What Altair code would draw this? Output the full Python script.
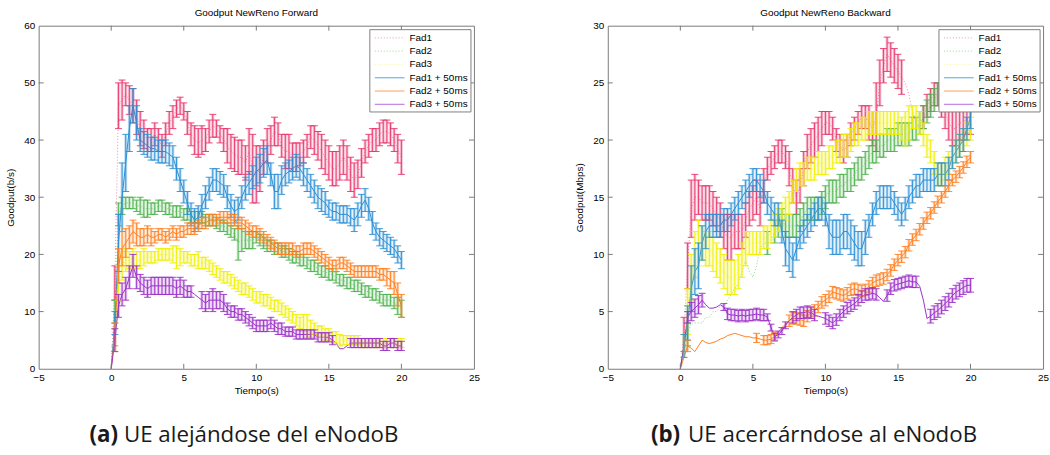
import altair as alt
import pandas as pd

# ---- series definitions -------------------------------------------------
SERIES = ["Fad1", "Fad2", "Fad3", "Fad1 + 50ms", "Fad2 + 50ms", "Fad3 + 50ms"]
BAR_COLORS = ["#e8336b", "#4db24d", "#f0f000", "#2b8fd4", "#ff8020", "#9b30c8"]
LINE_COLORS = ["#f08cb0", "#8fd08f", "#f5f550", "#2b8fd4", "#ff8020", "#9b30c8"]
KEY_COLORS = ["#f4a6c4", "#a8e0a8", "#f8f8a0", "#70b4e4", "#ffb070", "#c080e0"]
DOTTED = [True, True, True, False, False, False]

# sample instants (s), one every 0.25 s
TIME = [round(0.25 * k, 2) for k in range(81)]
XTICKS = [-5, 0, 5, 10, 15, 20, 25]
FWD_YTICKS = [0, 10, 20, 30, 40, 50, 60]
BWD_YTICKS = [0, 5, 10, 15, 20, 25, 30]

# ---- Forward: mean goodput and error half-width -------------------------
FWD_FAD1 = [
    0, 15, 46, 47, 48, 47, 46, 44, 42, 41, 40, 40, 41, 40, 39, 41,
    43, 44, 45.5, 46, 45, 43, 41, 40, 39.5, 40, 40, 41.5, 42.5, 42, 41, 40,
    39, 38, 37.5, 37, 37, 36, 38, 35, 34, 35, 37, 39, 40, 41.5, 41, 39,
    38, 38, 37, 37, 37.5, 38, 39, 40.5, 40, 39, 38, 37, 36, 35, 35, 36,
    37, 36, 34, 33, 34, 36, 38, 39, 40, 40, 41, 41.5, 41.5, 41, 40, 38.5,
    37]
FWD_FAD1_ERR = [
    0, 3, 4, 3.5, 2, 2.5, 3, 3, 3, 2.5, 2, 2, 2, 2, 2, 2,
    2, 2, 1.5, 1.5, 1.5, 2, 2, 2.5, 2.5, 2.5, 2, 2, 2, 1.5, 1.5, 2,
    3, 3, 3, 3, 3, 3, 4, 6, 5, 4, 3, 3, 2.5, 2.5, 2, 2,
    3, 3, 2.5, 2.5, 2, 2, 2, 2, 2.5, 2.5, 3, 3, 3, 3, 3, 3,
    3, 3, 3, 3, 2.5, 2.5, 2, 2, 2, 2, 2, 2, 2, 2, 2, 2.5,
    3]
FWD_FAD2 = [
    0, 10, 27, 28.5, 29, 29, 29, 28.5, 28.5, 28, 28, 28, 28, 28.5, 28.5, 28,
    28, 27.5, 27.5, 27.5, 27, 27, 26.5, 26.5, 26.5, 26.5, 26, 26, 26, 25.5, 25, 25,
    24.5, 24, 23.5, 22, 22.5, 22.5, 22.5, 22.5, 23, 22.5, 22, 21.5, 21.5, 21, 21, 20.5,
    20.5, 20, 19.5, 19.5, 19, 19, 18.5, 18, 18, 17.5, 17, 17, 16.5, 16.5, 16, 15.5,
    15.5, 15, 15, 14.5, 14.5, 14, 13.5, 13.5, 13, 13, 12.5, 12, 12, 12, 11.5, 11,
    10.5]
FWD_FAD2_ERR = [
    0, 2, 2, 1.5, 1, 1, 1, 1, 1.5, 1.5, 1.5, 1, 1, 1, 1, 1,
    1, 1, 1, 1, 1, 1, 1, 1, 1, 1, 1, 1, 1, 1, 1, 1,
    1, 1, 1, 3, 2, 1.5, 1.5, 1.5, 1, 1, 1, 1, 1, 1, 1, 1,
    1, 1, 1, 1, 1, 1, 1, 1, 1, 1, 1, 1, 1, 1, 1, 1,
    1, 1, 1, 1, 1, 1, 1, 1, 1, 1, 1, 1, 1, 1, 1, 1.5,
    1.5]
FWD_FAD3 = [
    0, 5, 15, 18, 19, 19, 19.5, 19, 19, 19.5, 19.5, 19.5, 19.5, 20, 20, 20,
    20, 20, 19.5, 19.5, 19.5, 19.5, 19, 19, 19, 18.5, 18.5, 18, 17.5, 17, 16.5, 16,
    16, 15.5, 15, 14.5, 14, 14, 13.5, 13, 12.5, 12.5, 12, 12, 11.5, 11, 11, 10.5,
    10, 9.5, 9, 8.5, 8, 8, 7.5, 7, 7, 6.5, 6.5, 6, 6, 5.5, 5.5, 5,
    5, 5, 5, 5, 5, 4.5, 4.5, 4.5, 4.5, 4.5, 4.5, 4.5, 4.5, 4.5, 4.5, 4.5,
    4.5]
FWD_FAD3_ERR = [
    0, 2, 3, 2.5, 2, 1.5, 1.5, 1.5, 1.5, 1.5, 1, 1, 1, 1, 1, 1,
    1, 1.5, 2, 1.5, 1, 1, 1, 1, 1.5, 1, 1, 1, 1, 1, 1, 1,
    1, 1, 1, 1, 1, 1, 1, 1, 1, 1, 1, 1, 1, 1, 1, 1,
    1, 1, 1, 1, 1, 1.5, 2, 1.5, 1, 1, 1, 1, 1, 1, 1, 1,
    0.8, 0.8, 0.8, 0.8, 0.8, 0.8, 0.8, 0.8, 0.8, 0.8, 0.8, 0.8, 0.8, 0.8, 0.8, 0.8,
    0.8]
FWD_FAD1_50 = [
    0, 8, 22, 30, 36, 42, 46, 43, 40, 39.5, 39, 38.5, 38.5, 38, 38, 38,
    37.5, 37, 35, 33, 31, 29, 27, 26, 26.5, 28.5, 30, 31.5, 33, 33, 32.5, 32,
    30, 28.5, 27.5, 28, 30, 31.5, 32.5, 33.5, 34.5, 35, 36, 36.5, 34, 31, 31, 33,
    34, 34.5, 35, 35.5, 35, 34, 33, 32, 31, 30, 29.5, 29, 28, 27.5, 27.5, 27,
    27, 27, 26.5, 26, 27, 28.5, 29.5, 28, 25.5, 24, 23, 22.5, 22, 21.5, 21, 20,
    19]
FWD_FAD1_50_ERR = [
    0, 2, 5, 6, 5, 4, 3, 3, 2, 2, 2, 2, 2, 2, 2, 2,
    2, 2, 2, 2, 2, 2, 2, 2, 2, 2, 2, 2, 2, 2, 2, 2,
    2, 2, 2, 2, 2, 2, 2, 2, 2.5, 2.5, 2.5, 2.5, 2, 3, 3, 2.5,
    2, 2, 2, 2, 2, 2, 2, 2, 2, 2, 2, 2, 1.5, 1.5, 1.5, 1.5,
    1.5, 1.5, 1.5, 2, 2, 2, 2, 2, 2, 1.5, 1.5, 1.5, 1.5, 1.5, 1.5, 1.5,
    1.5]
FWD_FAD2_50 = [
    0, 6, 18, 21, 22, 23, 24, 23.5, 23, 23, 23.5, 23, 23, 23.5, 23.5, 23,
    23.5, 24, 23.5, 24, 24, 24.5, 24.5, 24.5, 25, 25.5, 25.5, 26, 26, 26, 26.5, 26.5,
    26.5, 26, 26, 25.5, 25.5, 25, 24.5, 24, 24, 23.5, 23, 22.5, 22, 21.5, 21, 21,
    21, 21, 21, 20.5, 20.5, 21, 21, 21, 20.5, 20, 19.5, 19, 18.5, 18, 18, 18.5,
    18.5, 18, 17.5, 17, 17, 17, 17, 17, 17, 17, 16.5, 16.5, 16, 15.5, 15, 13,
    11]
FWD_FAD2_50_ERR = [
    0, 2, 3, 3, 2.5, 2, 2, 2, 1.5, 1.5, 1.5, 1.5, 1, 1, 1, 1,
    1, 1, 1, 1, 1, 1, 1, 1, 1, 1, 1, 1, 1, 1, 1, 1,
    1, 1, 1, 1, 1, 1, 1, 1, 1, 1, 1, 1, 1, 1, 1, 1,
    1, 1, 1, 1, 1, 1, 1, 1, 1, 1, 1, 1, 1, 1, 1, 1,
    1, 1, 1, 1, 1, 1, 1, 1, 1, 1, 1, 1, 1.5, 1.5, 2, 2,
    2]
FWD_FAD3_50 = [
    0, 5, 11, 13, 14, 16, 18, 16, 15, 14.5, 14, 14.5, 14.5, 14.5, 14.5, 14.5,
    14.5, 14.5, 14, 14.5, 14, 13.5, 13.5, 13, 12.5, 12, 11.5, 12, 12, 12, 12, 11.5,
    10.5, 10, 10, 9.5, 9.5, 9, 8.5, 8, 7.5, 7.5, 7.5, 7.5, 8, 7.5, 7, 7,
    6.5, 6.5, 6.5, 6, 6, 6, 6, 6, 6, 5.5, 5.5, 5.5, 5.5, 5, 4.5, 3.5,
    3.5, 4, 4.5, 4.5, 4.5, 4.5, 4.5, 4.5, 4.5, 4.5, 4.5, 4, 4, 4.5, 4.5, 4,
    4]
FWD_FAD3_50_ERR = [
    0, 2, 2, 2, 2, 2, 2, 2, 1.5, 1.5, 1.5, 1.5, 1.5, 1.5, 1.5, 1.5,
    1.5, 1.5, 1.5, 1.5, 1.5, 1, 1, 0, 0, 1.5, 1.5, 1.5, 2, 1.5, 1.5, 1.5,
    1, 1, 1, 1, 1, 1, 1, 1, 1, 1, 1, 1, 1, 1, 1, 1,
    0.8, 0.8, 0.8, 0.8, 0.8, 0.8, 0.8, 0.8, 0.8, 0.8, 0.8, 0.8, 0.8, 0.8, 0, 0,
    0, 0, 0.8, 0.8, 0.8, 0.8, 0.8, 0.8, 0.8, 0.8, 0.8, 0.8, 0.8, 0.8, 0.8, 0.8,
    0.8]

# ---- Backward: mean goodput and error half-width ------------------------
BWD_FAD1 = [
    0, 3, 9, 14, 15, 15, 14.5, 14.5, 14.5, 14, 13.5, 13, 12, 11.5, 11.5, 12,
    12, 12, 13, 14, 14.5, 15, 14, 16, 17.5, 18, 18.5, 19, 19, 18.5, 17.5, 16,
    15, 16, 17.5, 19, 19.5, 20, 20.5, 21, 21.5, 21.5, 21, 20, 19.5, 19, 19.5, 20.5,
    21, 21.5, 22, 22, 21.5, 21, 22, 25, 26.5, 27.5, 27, 26.5, 26, 25.5, 25, 24,
    22.5, 21.5, 21, 22, 23, 23.5, 24, 24, 23.5, 22.5, 21.5, 21, 21, 21.5, 21.5, 22,
    22]
BWD_FAD1_ERR = [
    0, 1.5, 2, 2.5, 2, 1.5, 1.5, 1.5, 1.5, 1.5, 1.5, 1.5, 1.5, 2, 2, 1.5,
    1.5, 1.5, 1.5, 1.5, 1.5, 1.5, 1.5, 1.5, 1, 1, 1, 1, 1, 1, 1.5, 1.5,
    1.5, 1.5, 1.5, 1.5, 1.5, 1.5, 1.5, 1.5, 1, 1, 1, 1, 1, 1, 1, 1,
    1, 1, 1, 1, 1.5, 1.5, 3, 2, 1.5, 1.5, 1.5, 1.5, 1.5, 1.5, 0, 0,
    0, 0, 0, 1, 1, 1, 1, 1, 1.5, 1.5, 1.5, 1.5, 1.5, 1.5, 1.5, 1.5,
    1.5]
BWD_FAD2 = [
    0, 1.5, 3, 4, 4, 4, 4, 4.5, 4.5, 5, 5, 5.5, 5.5, 6, 6.5, 7,
    7.5, 8.5, 9.5, 8.5, 8, 9, 10.5, 11, 11, 11, 12, 12.5, 13, 12.5, 12.5, 12.5,
    12.5, 13, 13.5, 14, 14, 14, 14, 14.5, 15, 15.5, 15.5, 15.5, 16, 16, 16.5, 16.5,
    17, 17.5, 17.5, 18, 18.5, 19, 19, 19.5, 19.5, 20, 20, 20, 20.5, 20.5, 20.5, 20.5,
    21, 21, 21.5, 22, 22.5, 23, 23.5, 24, 24, 24, 24, 24, 24, 24, 24, 24,
    24]
BWD_FAD2_ERR = [
    0, 0, 1, 0, 0, 0, 0, 0, 0, 0, 0, 0, 0, 0, 0, 0,
    0, 0, 0, 0, 0, 0, 0, 0, 1, 0, 1, 1, 1, 1, 1, 1,
    1, 1, 1, 1, 1, 1, 1, 1, 1, 1, 1, 1, 1, 1, 1, 1,
    1, 1, 1, 1, 1, 1, 1, 1, 1, 1, 1, 1, 1, 1, 1, 1,
    1, 1, 1, 1, 1, 1, 1, 1, 1, 1, 1, 1, 1, 1, 1, 1,
    1]
BWD_FAD3 = [
    0, 2, 5, 8, 10, 11, 11, 10.5, 10.5, 10, 9.5, 9, 8.5, 8, 8, 8,
    8.5, 9.5, 10.5, 11, 11, 11, 11, 11.5, 11.5, 12, 12.5, 13, 13.5, 14, 14.5, 15.5,
    16.5, 17, 17, 17.5, 17.5, 17.5, 18, 18, 18, 18.5, 18.5, 19, 19, 19.5, 19.5, 20,
    20.5, 20.5, 21, 21, 21.5, 21.5, 21.5, 21.5, 21.5, 21.5, 21.5, 21.5, 21.5, 21, 21, 21.5,
    22, 22, 21.5, 20.5, 19.5, 19, 18, 17, 17, 17.5, 18, 18.5, 19, 19.5, 20, 20.5,
    21]
BWD_FAD3_ERR = [
    0, 1, 2, 2, 2, 2, 1.5, 1.5, 1.5, 1.5, 1.5, 1.5, 1.5, 1.5, 1.5, 1.5,
    1.5, 1.5, 1.5, 1, 1, 1, 1, 1, 1, 1, 1, 1, 1, 1, 1, 1,
    1, 1, 1, 1, 1, 1, 1, 1, 1, 1, 1, 1, 1, 1, 1, 1,
    1, 1, 1, 1, 1, 1, 1, 1, 1, 1, 1, 1, 1, 1, 1.5, 1.5,
    1, 1, 1, 1, 1, 1, 1, 1, 1, 1, 1, 1, 1, 1, 1, 1,
    1]
BWD_FAD1_50 = [
    0, 2, 4, 7, 8.5, 9, 11, 12, 12.5, 12.5, 12.5, 12.5, 13, 13, 13.5, 14,
    14.5, 15, 15.5, 16, 16.5, 16.5, 16, 15.5, 14.5, 14, 13.5, 13.5, 12, 10.5, 10, 9.5,
    10.5, 11.5, 12, 12.5, 13, 13.5, 14, 14, 13.5, 12, 11.5, 11.5, 11.5, 12, 12, 11.5,
    11, 10.5, 10.5, 11.5, 12.5, 13.5, 14.5, 15, 15, 15, 15, 14.5, 14, 13.5, 14, 15,
    15.5, 16, 16, 16.5, 16.5, 16.5, 16.5, 17, 17, 17, 17.5, 18.5, 19, 19.5, 20, 21,
    22]
BWD_FAD1_50_ERR = [
    0, 1, 1.5, 2, 2, 2, 1.5, 1.5, 1, 1, 1, 1, 1, 1, 1, 1,
    1, 1, 1, 1, 1, 1, 1, 1, 1, 1, 1, 1, 1, 1.5, 1.5, 1.5,
    1, 1, 1, 1, 1, 1, 1, 1, 1, 1.5, 1.5, 1.5, 1.5, 1.5, 1.5, 1.5,
    1.5, 1.5, 1.5, 1.5, 1, 1, 1, 1, 1, 1, 1, 1, 1, 1, 1, 1,
    1, 1, 1, 1, 1, 1, 1, 1, 1, 1, 1, 1, 1, 1, 1, 1,
    1]
BWD_FAD2_50 = [
    0, 1, 2, 1.8, 1.5, 2, 2.5, 2.3, 2.2, 2.3, 2.4, 2.6, 2.7, 2.9, 3, 3.1,
    3, 2.9, 2.8, 2.8, 2.7, 2.7, 2.6, 2.5, 2.5, 2.6, 2.8, 3.2, 3.6, 3.9, 4.2, 4.4,
    4.4, 4.3, 4.2, 4.6, 4.9, 5.1, 5.4, 5.8, 6, 6.3, 6.7, 6.6, 6.5, 6.4, 6.6, 6.9,
    7, 6.9, 6.8, 6.9, 7.2, 7.5, 7.7, 7.8, 7.9, 8.2, 8.6, 9.1, 9.5, 9.8, 10.2, 10.8,
    11.3, 11.7, 12.2, 12.7, 13.2, 13.6, 14.1, 14.6, 15, 15.5, 16, 16.5, 16.8, 17.2, 17.6, 18.1,
    18.5]
BWD_FAD2_50_ERR = [
    0, 0, 0.5, 0, 0, 0, 0, 0, 0, 0, 0, 0, 0, 0, 0, 0,
    0, 0, 0, 0, 0, 0.4, 0, 0.4, 0.4, 0.4, 0.4, 0, 0, 0, 0.5, 0.5,
    0.5, 0.5, 0.5, 0.5, 0.5, 0.5, 0.5, 0.5, 0.5, 0.5, 0.5, 0.5, 0.5, 0.5, 0.5, 0.5,
    0.5, 0.5, 0.5, 0.5, 0.5, 0.5, 0.5, 0.5, 0.5, 0.5, 0.5, 0.5, 0.5, 0.5, 0.5, 0.5,
    0.5, 0.5, 0.5, 0.5, 0.5, 0.5, 0.5, 0.5, 0.5, 0.5, 0.5, 0.5, 0.5, 0.5, 0.5, 0.5,
    0.5]
BWD_FAD3_50 = [
    0, 2, 4.5, 5, 5.3, 5.6, 6, 5.6, 5.3, 5.3, 5.4, 5.6, 5.4, 4.8, 4.7, 4.7,
    4.6, 4.7, 4.6, 4.7, 4.7, 4.8, 4.7, 4.7, 4.5, 3.6, 2.8, 3, 3.3, 3.8, 4.2, 4.5,
    4.7, 4.9, 4.9, 5, 4.9, 4.7, 4.6, 4.5, 4.4, 4.2, 4, 4.3, 4.7, 5, 5.3, 5.5,
    5.7, 6, 6.3, 6.5, 6.5, 6.6, 6.5, 6.2, 5.9, 6.4, 7, 7.3, 7.4, 7.5, 7.6, 7.7,
    7.6, 7.6, 7.2, 6, 4.4, 4.6, 4.9, 5.1, 5.4, 5.7, 6, 6.4, 6.7, 6.9, 7.1, 7.3,
    7.3]
BWD_FAD3_50_ERR = [
    0, 0, 0.5, 0.8, 0.8, 0.8, 0.6, 0, 0, 0, 0, 0, 0.3, 0.5, 0.5, 0.5,
    0.5, 0.5, 0.5, 0.5, 0.5, 0.5, 0.5, 0.5, 0.3, 0.3, 0.3, 0.3, 0.3, 0.3, 0, 0.5,
    0.5, 0.5, 0.5, 0.5, 0.5, 0.5, 0, 0, 0.5, 0.5, 0.5, 0.5, 0.5, 0.5, 0.5, 0.5,
    0.5, 0.5, 0.5, 0.5, 0.5, 0.5, 0.5, 0, 0, 0.5, 0.5, 0.5, 0.5, 0.5, 0.5, 0.5,
    0.5, 0.5, 0, 0, 0, 0.6, 0.6, 0.6, 0.6, 0.6, 0.6, 0.6, 0.6, 0.6, 0.6, 0.6,
    0.6]

# ---- layout / style -----------------------------------------------------
W, H = 439, 346
AXIS_FONT = "Liberation Sans"
CAPTION_FONT = "Open Sans"
CAPTION_SIZE = 22.5
FRAME = "#7a7a7a"
TEXT = "#000000"


def build_frame(means, errs):
    rows = []
    for name, m, e in zip(SERIES, means, errs):
        assert len(m) == len(TIME) and len(e) == len(TIME), (name, len(m), len(e))
        for t, v, d in zip(TIME, m, e):
            rows.append({"t": t, "series": name, "mean": v,
                         "lo": v - d, "hi": v + d, "err": d})
    return pd.DataFrame(rows)


def panel(title, ytitle, ymax, yticks, means, errs, tag, caption, tag_x, caption_x):
    df = build_frame(means, errs)
    xs = alt.Scale(domain=[-5, 25], nice=False, zero=False)
    ys = alt.Scale(domain=[0, ymax], nice=False, zero=False)
    x_axis = alt.Axis(values=XTICKS, ticks=False, domain=False, grid=False,
                      labelFlush=False, labelOverlap=False, labelPadding=4,
                      titlePadding=3)
    y_axis = alt.Axis(values=yticks, ticks=False, domain=False, grid=False,
                      labelFlush=False, labelOverlap=False, labelPadding=4,
                      titlePadding=8)

    def X(field):
        return alt.X(field, type="quantitative", scale=xs, axis=x_axis, title="Tiempo(s)")

    def Y(field):
        return alt.Y(field, type="quantitative", scale=ys, axis=y_axis, title=ytitle)

    base = alt.Chart(df)
    layers = []
    # mean curves
    for i, name in enumerate(SERIES):
        style = {"strokeDash": [1, 2]} if DOTTED[i] else {}
        layers.append(
            base.transform_filter(alt.datum.series == name)
            .mark_line(color=LINE_COLORS[i], strokeWidth=1, clip=True, **style)
            .encode(x=X("t"), y=Y("mean"))
        )
    # error bars: soft halo, core line and caps
    for i, name in enumerate(SERIES):
        bars = base.transform_filter((alt.datum.series == name) & (alt.datum.err > 0))
        c = BAR_COLORS[i]
        layers.append(bars.mark_rule(color=c, strokeWidth=3, opacity=0.3)
                      .encode(x=X("t"), y=Y("lo"), y2="hi"))
        layers.append(bars.mark_rule(color=c, strokeWidth=1, opacity=0.9)
                      .encode(x=X("t"), y=Y("lo"), y2="hi"))
        layers.append(bars.mark_tick(color=c, orient="horizontal", size=7,
                                     thickness=1, opacity=0.9)
                      .encode(x=X("t"), y=Y("lo")))
        layers.append(bars.mark_tick(color=c, orient="horizontal", size=7,
                                     thickness=1, opacity=0.9)
                      .encode(x=X("t"), y=Y("hi")))

    # inward ticks on all four sides of the box
    xt = alt.Chart(pd.DataFrame({"v": XTICKS[1:-1]}))
    yt = alt.Chart(pd.DataFrame({"v": yticks[1:-1]}))
    layers.append(xt.mark_rule(color=FRAME).encode(x=X("v"), y=alt.value(H), y2=alt.value(H - 5)))
    layers.append(xt.mark_rule(color=FRAME).encode(x=X("v"), y=alt.value(0), y2=alt.value(5)))
    layers.append(yt.mark_rule(color=FRAME).encode(y=Y("v"), x=alt.value(0), x2=alt.value(5)))
    layers.append(yt.mark_rule(color=FRAME).encode(y=Y("v"), x=alt.value(W), x2=alt.value(W - 5)))

    # legend box
    one = alt.Chart(pd.DataFrame({"k": [0]}))
    layers.append(one.mark_rect(fill="white", stroke="#808080", strokeWidth=1).encode(
        x=alt.value(334), x2=alt.value(436), y=alt.value(4), y2=alt.value(87)))
    for i, name in enumerate(SERIES):
        row_y = 12.3 + i * 13.4
        style = {"strokeDash": [1, 2]} if DOTTED[i] else {}
        layers.append(one.mark_rule(color=KEY_COLORS[i], strokeWidth=1.2, **style).encode(
            x=alt.value(339), x2=alt.value(369), y=alt.value(row_y)))
        layers.append(one.mark_text(align="left", baseline="middle", font=AXIS_FONT,
                                    fontSize=10, color=TEXT).encode(
            x=alt.value(374), y=alt.value(row_y), text=alt.value(name)))

    # sub-figure caption
    cap = alt.Chart(pd.DataFrame({"tag": [tag], "caption": [caption]}))
    layers.append(cap.mark_text(font=CAPTION_FONT, fontSize=CAPTION_SIZE, fontWeight="bold",
                                align="right", baseline="alphabetic", color="#1a1a1a")
                  .encode(x=alt.value(tag_x), y=alt.value(420), text="tag:N"))
    layers.append(cap.mark_text(font=CAPTION_FONT, fontSize=CAPTION_SIZE, fontWeight="normal",
                                align="left", baseline="alphabetic", color="#1a1a1a")
                  .encode(x=alt.value(caption_x), y=alt.value(420), text="caption:N"))

    return alt.layer(*layers).properties(
        width=W, height=H,
        title=alt.TitleParams(title, fontSize=10, font=AXIS_FONT, fontWeight="normal",
                              offset=3, color=TEXT, anchor="middle"),
    )


forward = panel("Goodput NewReno Forward", "Goodput(b/s)", 60, FWD_YTICKS,
                [FWD_FAD1, FWD_FAD2, FWD_FAD3, FWD_FAD1_50, FWD_FAD2_50, FWD_FAD3_50],
                [FWD_FAD1_ERR, FWD_FAD2_ERR, FWD_FAD3_ERR, FWD_FAD1_50_ERR, FWD_FAD2_50_ERR, FWD_FAD3_50_ERR],
                "(a)", "UE alejándose del eNodoB", 80, 86)
backward = panel("Goodput NewReno Backward", "Goodput(Mbps)", 30, BWD_YTICKS,
                 [BWD_FAD1, BWD_FAD2, BWD_FAD3, BWD_FAD1_50, BWD_FAD2_50, BWD_FAD3_50],
                 [BWD_FAD1_ERR, BWD_FAD2_ERR, BWD_FAD3_ERR, BWD_FAD1_50_ERR, BWD_FAD2_50_ERR, BWD_FAD3_50_ERR],
                 "(b)", "UE acercárndose al eNodoB", 73, 81)

chart = (
    alt.hconcat(forward, backward, spacing=94)
    .properties(padding={"left": 5, "top": 5, "right": 0, "bottom": 0}, background="white")
    .configure_view(stroke=FRAME, strokeWidth=1)
    .configure_axis(labelFont=AXIS_FONT, labelFontSize=10, labelColor=TEXT,
                    titleFont=AXIS_FONT, titleFontSize=10, titleFontWeight="normal",
                    titleColor=TEXT)
)

chart.save("out.html", embed_options={"renderer": "svg", "actions": False})
